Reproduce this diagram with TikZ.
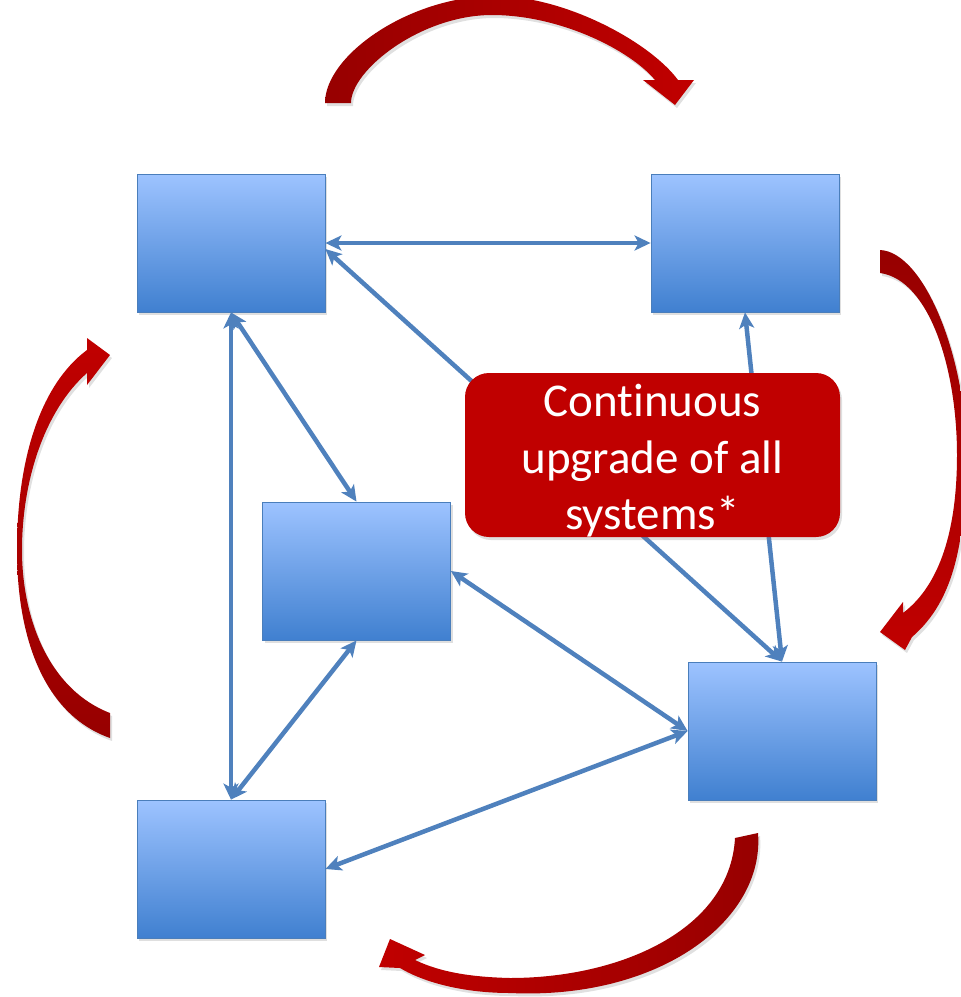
\documentclass[tikz,border=0pt]{standalone}
\usepackage{fontspec}
\setmainfont{Carlito}[Ligatures=NoCommon]
\usetikzlibrary{arrows.meta,shadows,calc}
\definecolor{boxtop}{HTML}{9DC3FF}
\definecolor{boxbot}{HTML}{4080D0}
\definecolor{boxline}{HTML}{4A7EBB}
\definecolor{linkblue}{HTML}{4F81BD}
\definecolor{upred}{HTML}{C00000}
\definecolor{deepred}{HTML}{970000}

\begin{document}
\begin{tikzpicture}[x=1pt,y=-1pt,
  sysbox/.style={rectangle, minimum width=188pt, minimum height=138pt,
    inner sep=0pt, top color=boxtop, bottom color=boxbot, draw=boxline,
    line width=0.8pt,
    drop shadow={shadow xshift=2pt, shadow yshift=-3pt, opacity=0.25}},
  linkline/.style={draw=linkblue, line width=4.5pt,
    {Stealth[length=16pt,width=15pt,inset=4pt]}-{Stealth[length=16pt,width=15pt,inset=4pt]}},
  notebox/.style={rectangle, fill=upred, rounded corners=24pt,
    minimum width=375pt, minimum height=164pt, inner sep=0pt,
    drop shadow={shadow xshift=2pt, shadow yshift=-3pt, opacity=0.25}},
  notetext/.style={text=white, align=center, inner sep=0pt,
    font=\fontsize{47}{56.5}\selectfont},
  arcshadow/.style={preaction={fill=black, fill opacity=0.12,
    transform canvas={xshift=2pt, yshift=-3pt}}}]

\useasboundingbox (0,0) rectangle (961,997);

% the five systems
\node[sysbox] (A) at (231,243) {};
\node[sysbox] (B) at (745,243) {};
\node[sysbox] (C) at (356.5,571) {};
\node[sysbox] (D) at (782,731) {};
\node[sysbox] (E) at (231,869) {};

% links between systems
\draw[linkline] (A.east) -- (B.west);
\draw[linkline] ($(A.east)+(0,6)$) -- (D.north);
\draw[linkline] (B.south) -- (D.north);
\draw[linkline] (A.south) -- (C.north);
\draw[linkline] (A.south) -- (E.north);
\draw[linkline] (C.south) -- (E.north);
\draw[linkline] (C.east) -- (D.west);
\draw[linkline] (D.west) -- (E.east);

% central note
\node[notebox] (R) at (652.5,455) {};
\node[notetext] (Rt) at ($(R.center)+(0,6)$) {Continuous\\upgrade of all\\systems*};

% curved cycle arrows around the systems
% top: left to right
\shade[arcshadow, left color=deepred, right color=upred]
  (325,103) .. controls (325,55) and (410,-4) .. (495,-4)
  .. controls (565,-4) and (650,42) .. (678,80)
  -- (694,80) -- (675,105) -- (643,80) -- (655,80)
  .. controls (630,50) and (560,15) .. (492,15)
  .. controls (421,15) and (351,70) .. (351,103)
  -- cycle;

% right: top to bottom
\shade[arcshadow, top color=deepred, bottom color=upred]
  (880,250) .. controls (925,252) and (966,360) .. (966,450)
  .. controls (966,540) and (955,600) .. (912,637)
  -- (905,650) -- (880,632) -- (903,602) -- (903,613)
  .. controls (940,585) and (957,530) .. (957,455)
  .. controls (957,370) and (930,280) .. (880,273)
  -- cycle;

% left: bottom to top
\shade[arcshadow, top color=upred, bottom color=deepred]
  (110,738) .. controls (45,715) and (17,640) .. (17,550)
  .. controls (17,460) and (40,385) .. (87,350)
  -- (87,338) -- (110,355) -- (87,385) -- (87,373)
  .. controls (45,410) and (22,480) .. (22,550)
  .. controls (22,620) and (50,690) .. (110,713)
  -- cycle;

% bottom: right to left
\shade[arcshadow, left color=upred, right color=deepred]
  (758,833) .. controls (765,920) and (660,1000) .. (510,993)
  .. controls (465,993) and (425,983) .. (400,968)
  -- (379,967) -- (390,939) -- (425,955) -- (415,960)
  .. controls (440,972) and (470,977) .. (510,978)
  .. controls (620,978) and (730,930) .. (735,838)
  -- cycle;

\end{tikzpicture}
\end{document}
